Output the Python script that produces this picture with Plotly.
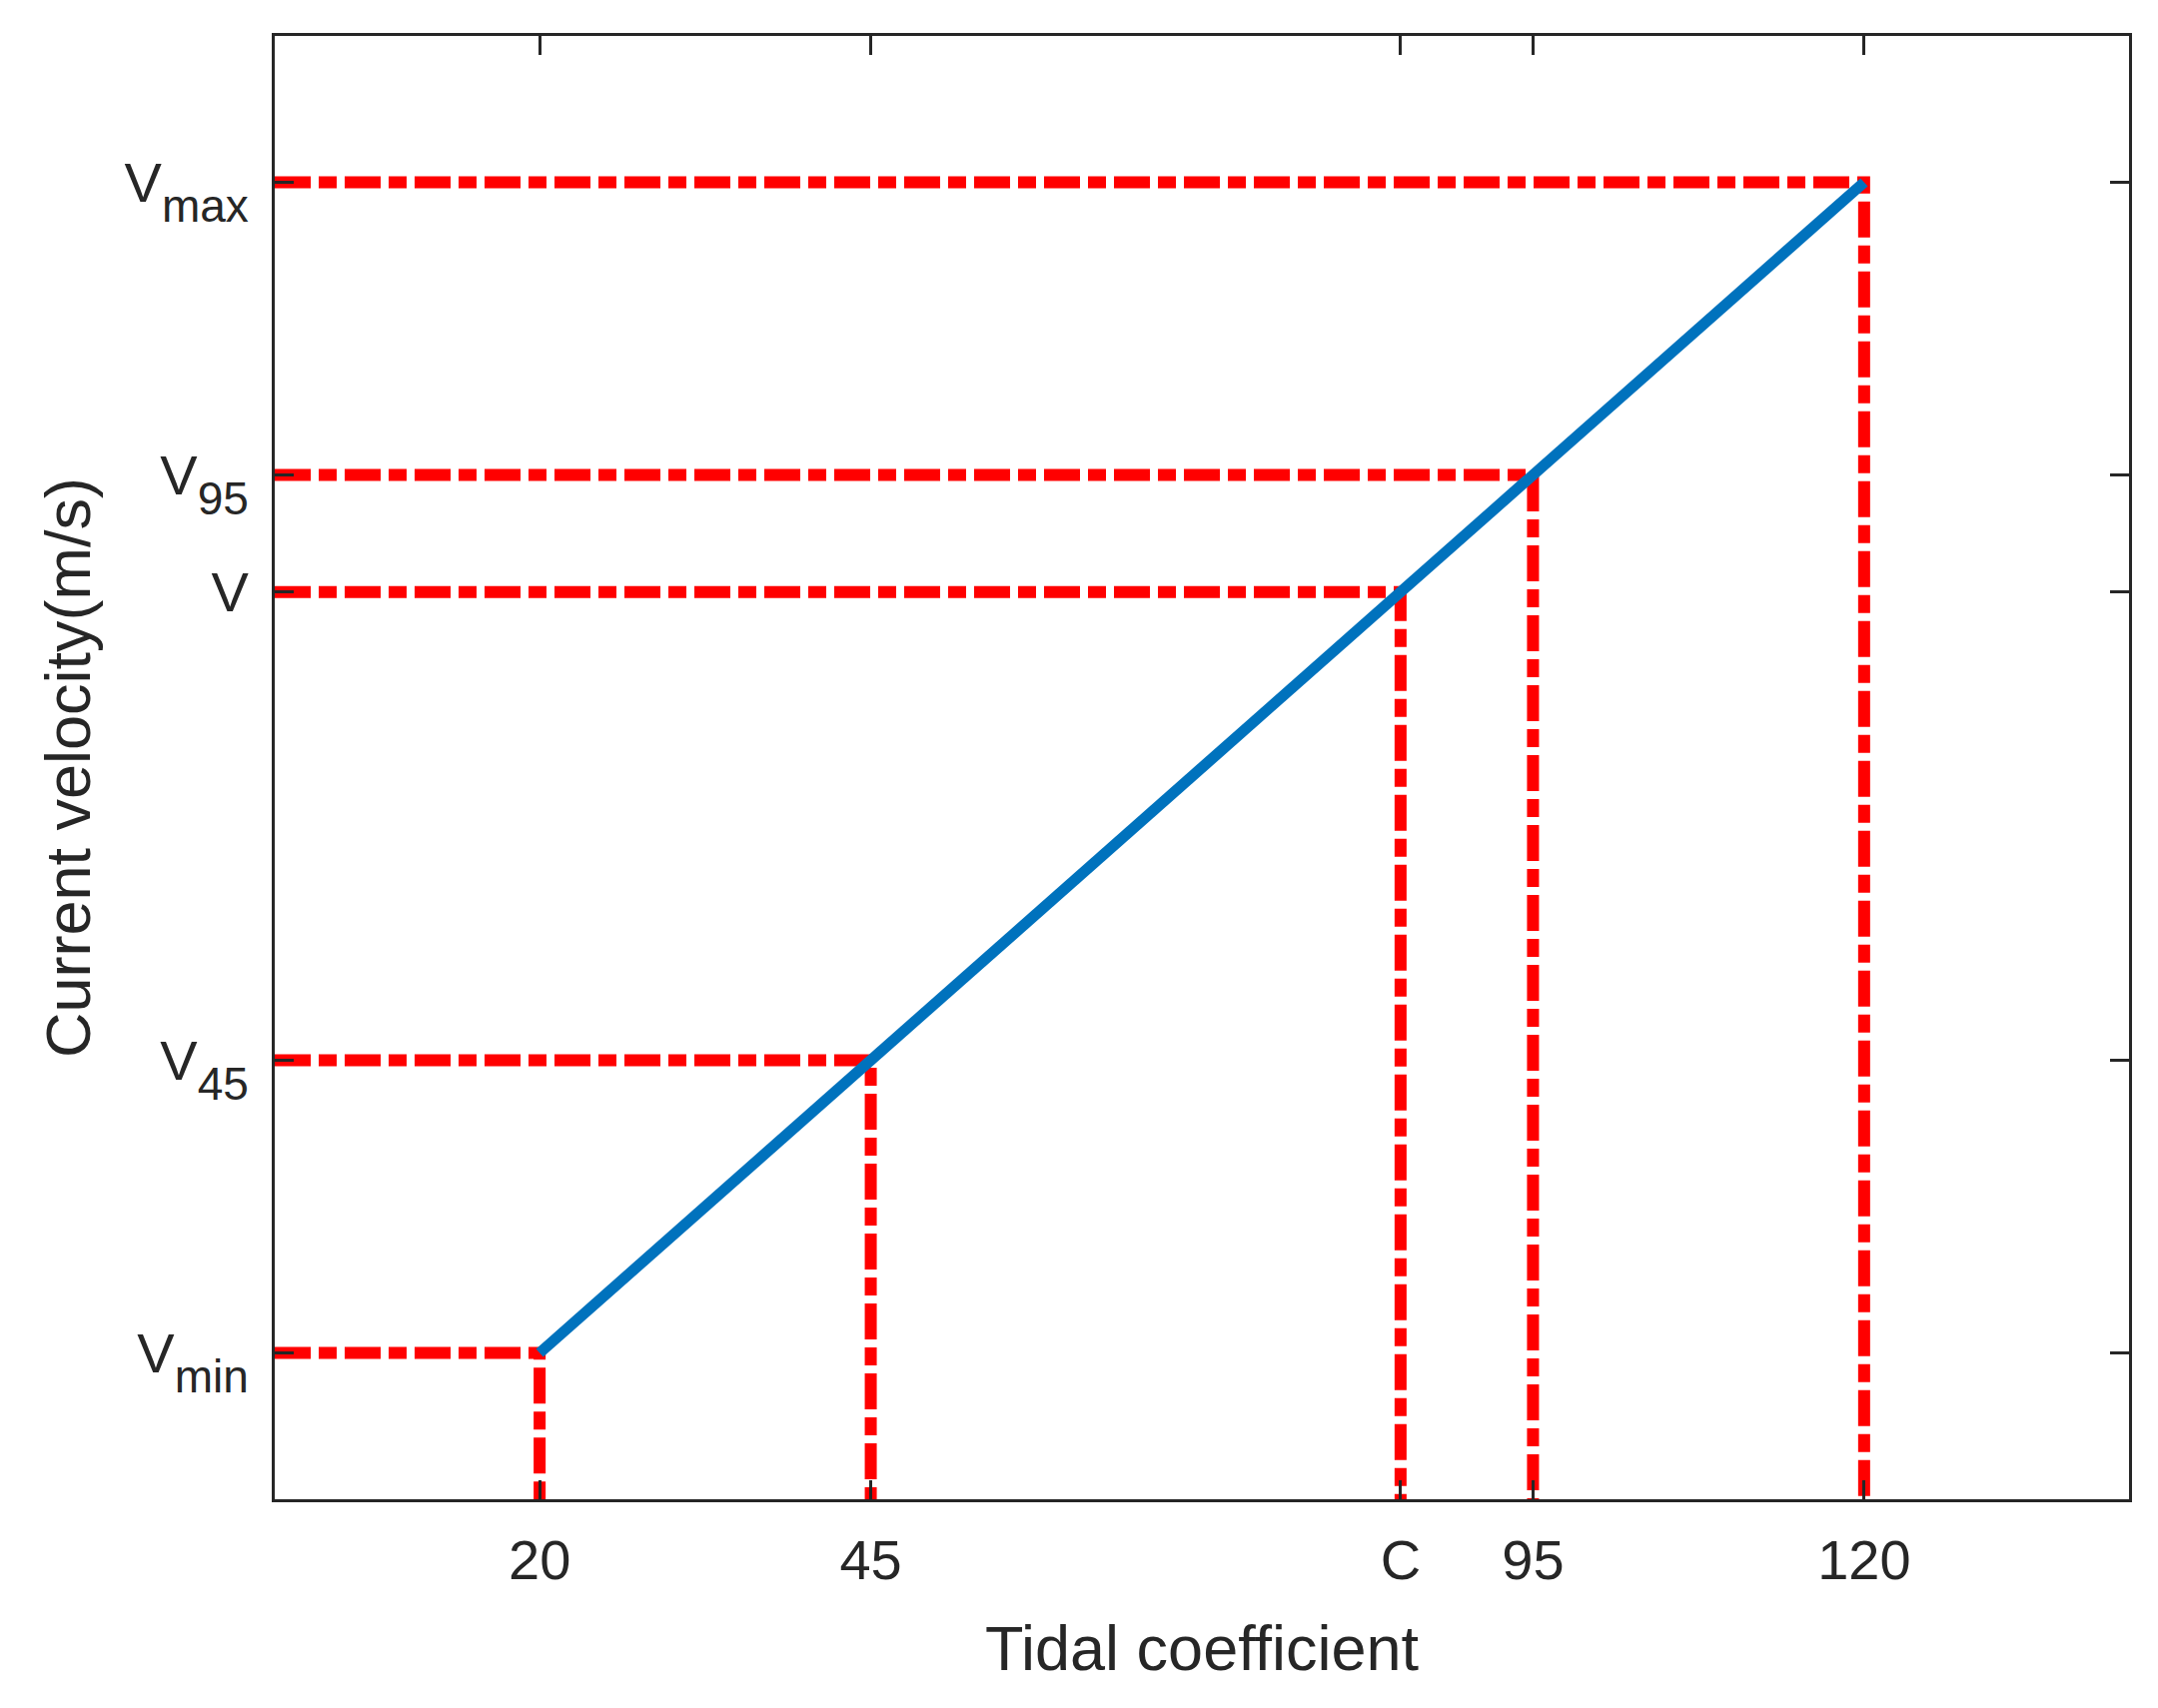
import plotly.graph_objects as go

# tidal coefficient vs current velocity (schematic)
coef = [20, 45, 85, 95, 120]
velocity = [0.5, 1.0, 1.8, 2.0, 2.5]
coef_labels = ["20", "45", "C", "95", "120"]
sub_names = ["min", "45", "", "95", "max"]

x_range = [0, 140]
y_range = [0.25, 2.75]

ink = "#262626"
red = "#FF0000"
blue = "#0072BD"
font = "Liberation Sans, Arial, sans-serif"


def v_label(sub):
    if not sub:
        return "V"
    # nested sub gives a deeper drop, span restores a MATLAB-like size
    return 'V<sub><sub><span style="font-size:46px">%s</span></sub></sub>' % sub


vel_labels = [v_label(s) for s in sub_names]

fig = go.Figure()

# red guide lines: horizontal from the left axis, then down to the bottom axis
for c, v in zip(coef, velocity):
    fig.add_trace(go.Scatter(
        x=[x_range[0], c, c],
        y=[v, v, y_range[0]],
        mode="lines",
        line=dict(color=red, width=12, dash="36px,8px,18px,8px"),
        showlegend=False,
        hoverinfo="skip",
    ))

# the relation itself
fig.add_trace(go.Scatter(
    x=[coef[0], coef[-1]],
    y=[velocity[0], velocity[-1]],
    mode="lines",
    line=dict(color=blue, width=11),
    showlegend=False,
))

axis_common = dict(
    showline=True, linecolor=ink, linewidth=3, mirror="ticks",
    ticks="inside", ticklen=19, tickwidth=3, tickcolor=ink,
    showgrid=False, zeroline=False,
    tickfont=dict(family=font, size=56, color=ink),
)

fig.update_xaxes(
    range=x_range, tickmode="array", tickvals=coef, ticktext=coef_labels,
    title=dict(text="Tidal coefficient", font=dict(family=font, size=63, color=ink), standoff=36),
    ticklabelstandoff=10,
    **axis_common,
)
fig.update_yaxes(
    range=y_range, tickmode="array", tickvals=velocity, ticktext=vel_labels,
    title=dict(text="Current velocity(m/s)", font=dict(family=font, size=63, color=ink), standoff=14),
    ticklabelstandoff=12,
    **axis_common,
)

fig.update_layout(
    width=2160, height=1710,
    margin=dict(l=267, r=37, t=28, b=217),
    plot_bgcolor="white", paper_bgcolor="white",
    font=dict(family=font, color=ink),
)

fig.write_html("out.html")
